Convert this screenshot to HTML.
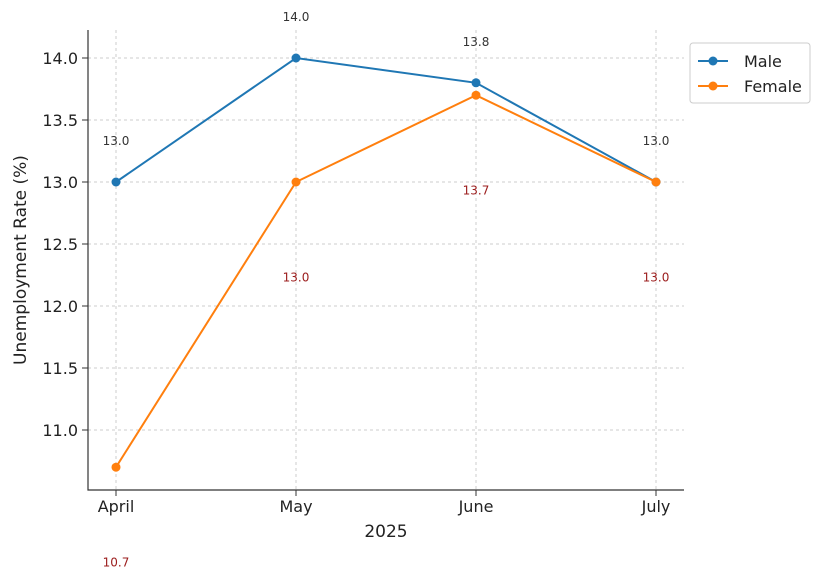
<!DOCTYPE html>
<html><head><meta charset="utf-8"><style>
body{margin:0;background:#fff;font-family:"Liberation Sans","DejaVu Sans",sans-serif}
svg text{font-family:"DejaVu Sans","Liberation Sans",sans-serif}
</style></head><body>
<svg id="chart" width="823" height="582" xmlns="http://www.w3.org/2000/svg"></svg>
<script>
const categories=["April","May","June","July"];
const maleValues=[13.0,14.0,13.8,13.0];
const femaleValues=[10.7,13.0,13.7,13.0];
const yTicks=[11.0,11.5,12.0,12.5,13.0,13.5,14.0];
const svg=document.getElementById('chart');
const NS='http://www.w3.org/2000/svg';
const x0=116,dx=180;
function xs(i){return x0+i*dx;}
function ys(v){return 182-(v-13)*124;}
function mk(tag,attrs,parent){const e=document.createElementNS(NS,tag);for(const k in attrs)e.setAttribute(k,attrs[k]);(parent||svg).appendChild(e);return e;}
// grid
yTicks.forEach(t=>{
 const g=mk('line',{x1:88,x2:684,y1:ys(t),y2:ys(t),stroke:'#cccccc','stroke-dasharray':'3,3','stroke-width':1});
 
 
 const tk=mk('line',{x1:82,x2:88,y1:ys(t),y2:ys(t),stroke:'#333'});
 
 
 const tx=mk('text',{x:78,y:ys(t)+6,'text-anchor':'end','font-size':16,fill:'#222'});
 tx.textContent=t.toFixed(1);
 
 
});
categories.forEach((c,i)=>{
 const g=mk('line',{x1:xs(i),x2:xs(i),y1:30,y2:490,stroke:'#cccccc','stroke-dasharray':'3,3','stroke-width':1});
 
 
 const tk=mk('line',{x1:xs(i),x2:xs(i),y1:490,y2:496,stroke:'#333'});
 
 
 const tx=mk('text',{x:xs(i),y:512,'text-anchor':'middle','font-size':16,fill:'#222'});
 tx.textContent=c;
 
 
});
const ax=mk('path',{d:'M88,30 V490 H684',fill:'none',stroke:'#333','stroke-width':1.2});


const xt=mk('text',{x:386,y:537,'text-anchor':'middle','font-size':17,fill:'#222'});
xt.textContent='2025';


const yt=mk('text',{x:0,y:0,'text-anchor':'middle','font-size':17,fill:'#222',transform:'translate(26,260) rotate(-90)'});
yt.textContent='Unemployment Rate (%)';


function series(vals,color,name,labelOff,labelColor){
 const pts=vals.map((v,i)=>xs(i)+','+ys(v)).join(' ');
 const l=mk('polyline',{points:pts,fill:'none',stroke:color,'stroke-width':2});
 
 
 vals.forEach((v,i)=>{
  const c=mk('circle',{cx:xs(i),cy:ys(v),r:4.5,fill:color});
  
  
  const t=mk('text',{x:xs(i),y:ys(v+labelOff)+4,'text-anchor':'middle','font-size':12,fill:labelColor});
  t.textContent=v.toFixed(1);
  
  
 });
}
series(maleValues,'#1f77b4','male',0.33,'#333');
series(femaleValues,'#ff7f0e','female',-0.77,'#9b1c1c');
// legend
const lg=mk('g',{});


mk('rect',{x:690,y:43,width:120,height:60,rx:3,fill:'#fff',stroke:'#ccc'},lg);
[['Male','#1f77b4',61],['Female','#ff7f0e',86]].forEach(([n,c,y])=>{
 const e=mk('g',{},lg);
 
 
 mk('line',{x1:698,x2:728,y1:y,y2:y,stroke:c,'stroke-width':2},e);
 mk('circle',{cx:713,cy:y,r:4.5,fill:c},e);
 const t=mk('text',{x:744,y:y+6,'font-size':16,fill:'#222'},e);
 t.textContent=n;
});
</script>
</body></html>
